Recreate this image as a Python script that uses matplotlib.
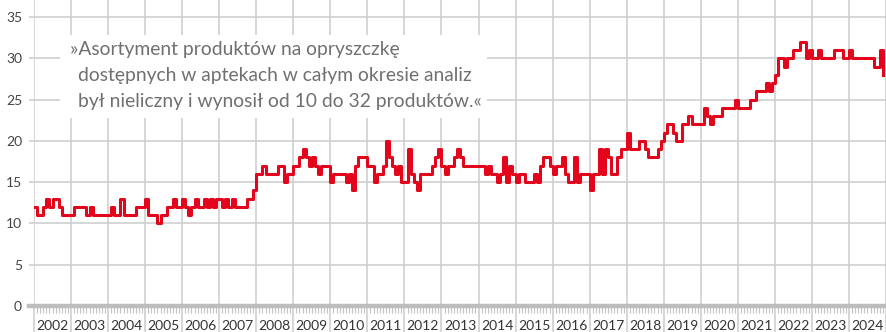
import numpy as np
import matplotlib.pyplot as plt
from matplotlib.patches import Rectangle
from matplotlib.ticker import FixedLocator
from matplotlib.transforms import blended_transform_factory

# number of products on the market, month by month (Jan..Dec)
y2002 = [12, 11, 11, 12, 13, 12, 13, 13, 12, 11, 11, 11]
y2003 = [11, 12, 12, 12, 12, 11, 12, 11, 11, 11, 11, 11]
y2004 = [11, 12, 11, 11, 13, 11, 11, 11, 11, 12, 12, 12]
y2005 = [13, 11, 11, 11, 10, 11, 11, 12, 12, 13, 12, 12]
y2006 = [13, 12, 11, 12, 13, 12, 12, 13, 12, 13, 12, 13]
y2007 = [13, 12, 13, 12, 13, 12, 12, 12, 12, 13, 13, 14]
y2008 = [16, 16, 17, 16, 16, 16, 16, 17, 17, 15, 16, 16]
y2009 = [17, 17, 18, 19, 18, 17, 18, 17, 16, 17, 17, 17]
y2010 = [15, 16, 16, 16, 16, 15, 16, 14, 17, 18, 18, 18]
y2011 = [17, 17, 15, 16, 16, 17, 20, 18, 17, 16, 17, 15]
y2012 = [15, 19, 16, 15, 14, 16, 16, 16, 16, 17, 18, 19]
y2013 = [17, 16, 17, 17, 18, 19, 18, 17, 17, 17, 17, 17]
y2014 = [17, 17, 16, 17, 16, 16, 15, 16, 18, 15, 17, 16]
y2015 = [15, 16, 16, 15, 15, 15, 16, 15, 17, 18, 18, 17]
y2016 = [16, 17, 17, 18, 16, 15, 15, 18, 15, 16, 16, 16]
y2017 = [14, 16, 16, 19, 16, 19, 18, 16, 16, 18, 19, 19]
y2018 = [21, 19, 19, 19, 20, 20, 19, 18, 18, 18, 19, 20]
y2019 = [21, 22, 22, 21, 20, 20, 22, 22, 23, 22, 22, 22]
y2020 = [22, 24, 23, 22, 23, 23, 23, 24, 24, 24, 24, 25]
y2021 = [24, 24, 24, 24, 25, 25, 26, 26, 26, 27, 26, 27]
y2022 = [28, 30, 30, 29, 30, 30, 31, 31, 32, 32, 30, 31]
y2023 = [30, 30, 31, 30, 30, 30, 30, 31, 31, 31, 30, 30]
y2024 = [31, 30, 30, 30, 30, 30, 30, 30, 29, 29, 31, 28]

years = list(range(2002, 2025))
counts = np.concatenate([y2002, y2003, y2004, y2005, y2006, y2007, y2008,
                         y2009, y2010, y2011, y2012, y2013, y2014, y2015,
                         y2016, y2017, y2018, y2019, y2020, y2021, y2022,
                         y2023, y2024])
months = 2002 + np.arange(len(counts)) / 12.0

note_lines = ['»Asortyment produktów na opryszczkę',
              'dostępnych w aptekach w całym okresie analiz',
              'był nieliczny i wynosił od 10 do 32 produktów.«']

RED = '#e3051b'
GRID = '#cfcfcf'
W, H = 886, 332

plt.rcParams['font.family'] = ['Lato', 'DejaVu Sans']

fig = plt.figure(figsize=(W / 100, H / 100), dpi=100)
ax = fig.add_axes([34 / W, 26 / H, 852 / W, 306 / H])

ax.step(months, counts, where='post', color=RED, lw=2.2, zorder=4)

ax.set_xlim(2002, 2024.95)
ax.set_ylim(0, 37.06)
ax.set_yticks(range(0, 36, 5))
ax.set_xticks(years + [2025])
ax.xaxis.set_minor_locator(FixedLocator(2002 + np.arange(0, 23 * 12 + 1) / 12.0))
ax.tick_params(axis='x', which='major', length=19, width=1.2, color=GRID,
               labelbottom=False)
ax.tick_params(axis='x', which='minor', length=5, width=0.8, color='#c4c4c4')
ax.tick_params(axis='y', length=3.6, width=1.2, color=GRID, pad=5,
               labelsize=10, labelcolor='#444444')

ax.set_axisbelow(True)
ax.grid(True, which='major', color=GRID, lw=1.2)
for s in ax.spines.values():
    s.set_visible(False)

# heavy baseline at zero
ax.axhline(0, xmin=-5 / 852, xmax=1, color='#bdbdbd', lw=3.2, clip_on=False,
           zorder=3)

# year names between the year separators
tr = blended_transform_factory(ax.transData, ax.transAxes)
for yr in years:
    ax.text(yr + 0.5, -0.066, str(yr), transform=tr, ha='center', va='center',
            fontsize=10, color='#333333')

# white panel under the quote
ax.add_patch(Rectangle((26 / 852, (306 - 118) / 306), 427 / 852, 83 / 306,
                       transform=ax.transAxes, facecolor='white',
                       edgecolor='none', zorder=1.5))
for i, line in enumerate(note_lines):
    x = 70 if i == 0 else 78
    fig.text(x / W, 1 - (50 + i * 25.5) / H, line, ha='left', va='center',
             fontsize=13.9, color='#707070')

fig.savefig('out.png', dpi=100)
